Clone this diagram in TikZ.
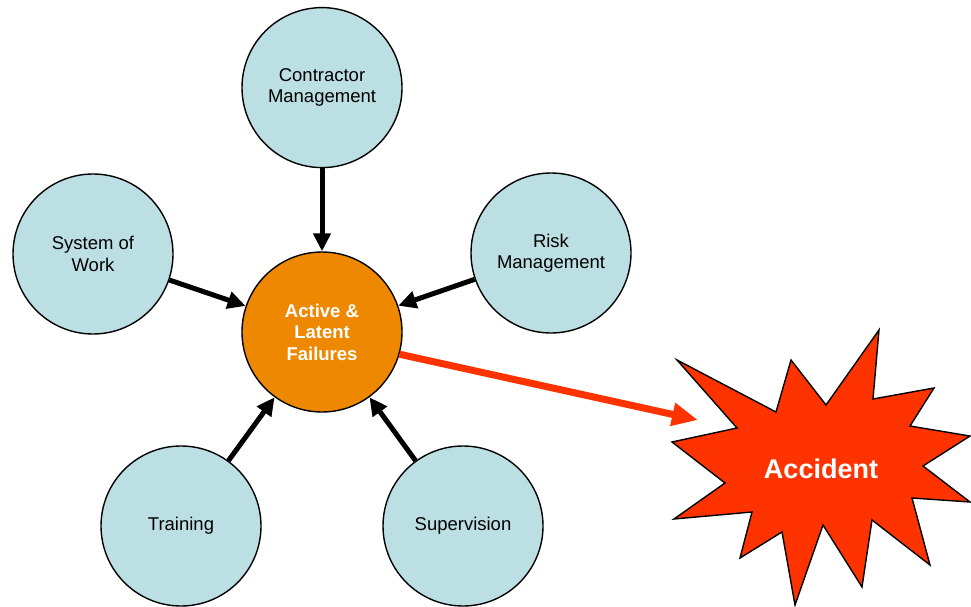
\documentclass[tikz,border=0pt]{standalone}
\usepackage{fontspec}
\setmainfont{Liberation Sans}
\usetikzlibrary{positioning,arrows.meta}

\definecolor{paleblue}{RGB}{187,223,226}
\definecolor{amber}{RGB}{238,136,0}
\definecolor{flame}{RGB}{255,51,0}

\begin{document}
\begin{tikzpicture}[
    x=1pt, y=-1pt,
    font=\fontsize{18.5}{21.5}\selectfont,
    factor/.style={circle, draw, line width=1.4pt, fill=paleblue,
                   minimum size=160pt, inner sep=0pt, align=center},
    core/.style={factor, fill=amber, text=white,
                 font=\fontsize{18.5}{21.5}\selectfont\bfseries},
    feed/.style={-{Triangle[length=18pt, width=17pt]}, line width=5pt},
    hit/.style={-{Triangle[length=26pt, width=22pt]}, line width=7pt, flame},
  ]
  \useasboundingbox (0,0) rectangle (971,607);

  % centre and contributing factors
  \node[core] (core) at (322,332) {Active \&\\Latent\\Failures};
  \node[factor, above=83pt of core] (contractor) {Contractor\\Management};
  \node[factor] (sow) at (93,254) {System of\\Work};
  \node[factor] (risk) at (551,253) {Risk\\Management};
  \node[factor] (training) at (181,526) {Training};
  \node[factor] (supervision) at (463,526) {Supervision};

  % the accident burst
  \draw[line width=1.4pt, fill=flame, line join=miter]
    (677,360) -- (776,412) -- (791,360) -- (826,405) -- (879,330)
    -- (873,399) -- (934,388) -- (910,426) -- (970,436) -- (923,466)
    -- (970,502) -- (912,498) -- (930,565) -- (872,520) -- (862,587)
    -- (823,525) -- (795,605) -- (782,532) -- (740,558) -- (752,512)
    -- (674,519) -- (725,483) -- (672,442) -- (737,428) -- cycle;
  \node[text=white, font=\fontsize{27}{32}\selectfont\bfseries]
    (accident) at (821,469) {Accident};
  \coordinate (impact) at (698,420);

  \draw[feed] (contractor) -- (core);
  \draw[feed] (sow) -- (core);
  \draw[feed] (risk) -- (core);
  \draw[feed] (training) -- (core);
  \draw[feed] (supervision) -- (core);
  \draw[hit] (core.-16) -- (impact);
\end{tikzpicture}
\end{document}
